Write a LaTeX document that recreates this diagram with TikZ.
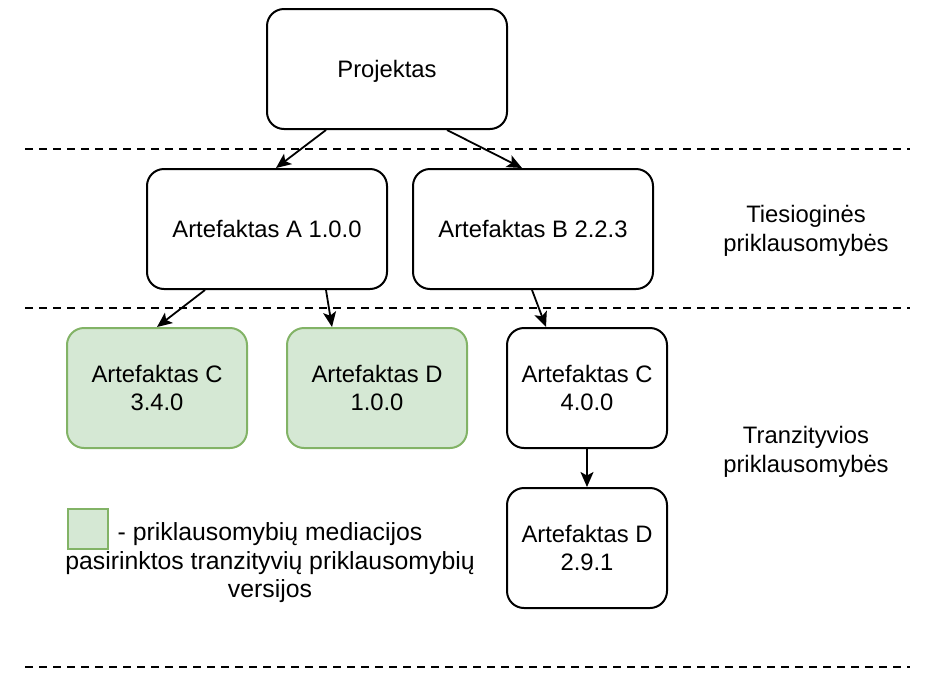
\documentclass[tikz,border=0pt]{standalone}
\usepackage{fontspec}
\setmainfont{Liberation Sans}
\usetikzlibrary{arrows.meta,calc}
\definecolor{gfill}{HTML}{D5E8D4}
\definecolor{gline}{HTML}{82B366}
\begin{document}
\begin{tikzpicture}[x=1pt,y=-1pt,
  txt/.style={font=\fontsize{23.8}{28.5}\selectfont,align=center,inner sep=0pt},
  box/.style={txt,draw=black,line width=2pt,rounded corners=17pt,fill=white,minimum height=120pt,minimum width=240pt,text depth=-2pt},
  gbox/.style={box,draw=gline,fill=gfill,minimum width=180pt},
  sbox/.style={box,minimum width=160pt},
  sep/.style={line width=1.8pt,dash pattern=on 8pt off 6pt},
  arr/.style={line width=1.8pt,-{Stealth[length=15pt,width=13pt,inset=3.5pt]}}]
\useasboundingbox (0,0) rectangle (932,686);
% separators
\coordinate (l1a) at (25,149); \coordinate (l1b) at (910,149);
\coordinate (l2a) at (25,308); \coordinate (l2b) at (910,308);
\coordinate (l3a) at (25,667); \coordinate (l3b) at (910,667);
\draw[sep] (l1a) -- (l1b);
\draw[sep] (l2a) -- (l2b);
\draw[sep] (l3a) -- (l3b);
% nodes
\node[box] (proj) at (387,69) {Projektas};
\node[box] (a) at (267,229) {Artefaktas A 1.0.0};
\node[box] (b) at (533,229) {Artefaktas B 2.2.3};
\node[gbox] (gc) at (157,388) {Artefaktas C\\3.4.0};
\node[gbox] (gd) at (377,388) {Artefaktas D\\1.0.0};
\node[sbox] (c4) at (587,388) {Artefaktas C\\4.0.0};
\node[sbox] (d2) at (587,548) {Artefaktas D\\2.9.1};
\node[txt] (t1) at (806,231) {Tiesioginės\\priklausomybės};
\node[txt] (t2) at (806,452) {Tranzityvios\\priklausomybės};
% legend
\node[draw=gline,fill=gfill,line width=2pt,minimum width=40pt,minimum height=40pt,inner sep=0pt] (leg) at (87.5,528.5) {};
\node[txt,font=\fontsize{24.8}{28.5}\selectfont] (legt) at (270,563) {- priklausomybių mediacijos\\pasirinktos tranzityvių priklausomybių\\versijos};
% arrows
\draw[arr] ([xshift=60pt]proj.south west) -- ([xshift=130pt]a.north west);
\draw[arr] ([xshift=181pt]proj.south west) -- ([xshift=110pt]b.north west);
\draw[arr] ([xshift=59pt]a.south west) -- ([xshift=91pt]gc.north west);
\draw[arr] ([xshift=180pt]a.south west) -- ([xshift=46pt]gd.north west);
\draw[arr] ([xshift=120pt]b.south west) -- ([xshift=40pt]c4.north west);
\draw[arr] (c4.south) -- (d2.north);
\end{tikzpicture}
\end{document}
